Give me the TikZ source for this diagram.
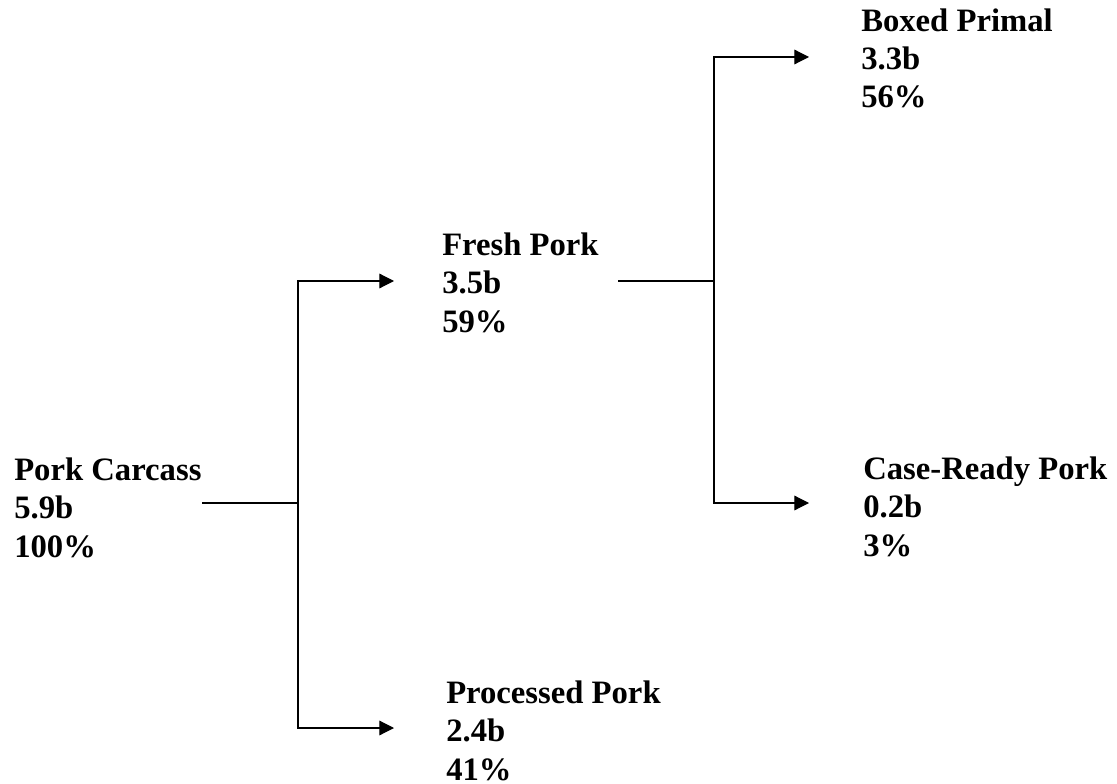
\documentclass[tikz,border=0pt]{standalone}
\usepackage{fontspec}
\setmainfont{Liberation Serif}
\usetikzlibrary{arrows.meta}
\begin{document}
\begin{tikzpicture}[x=0.75pt,y=-0.75pt,
  lbl/.style={align=left,anchor=base west,inner sep=0pt,
    font=\fontsize{24.5}{28.7}\selectfont\bfseries},
  conn/.style={line width=0.9pt},
  arr/.style={conn,-{Triangle[length=11pt,width=11pt]}}]
\useasboundingbox (0,0) rectangle (1117,784);
% base anchor of a multi-line node = baseline of its last line
\node[lbl] (c) at (14,557) {Pork Carcass\\5.9b\\100\%};
\node[lbl] (f) at (442,332) {Fresh Pork\\3.5b\\59\%};
\node[lbl] (p) at (446,780) {Processed Pork\\2.4b\\41\%};
\node[lbl] (b) at (861,108) {Boxed Primal\\3.3b\\56\%};
\node[lbl] (r) at (863,556) {Case-Ready Pork\\0.2b\\3\%};
\coordinate (j1) at (298,503);
\coordinate (j2) at (714,281);
\coordinate (cs) at (202,503);
\coordinate (fs) at (618,281);
\coordinate (ft) at (394,281);
\coordinate (pt) at (394,728);
\coordinate (bt) at (809,57);
\coordinate (rt) at (809,503);
\draw[conn] (cs) -- (j1);
\draw[arr] (j1) |- (ft);
\draw[arr] (j1) |- (pt);
\draw[conn] (fs) -- (j2);
\draw[arr] (j2) |- (bt);
\draw[arr] (j2) |- (rt);
\end{tikzpicture}
\end{document}
